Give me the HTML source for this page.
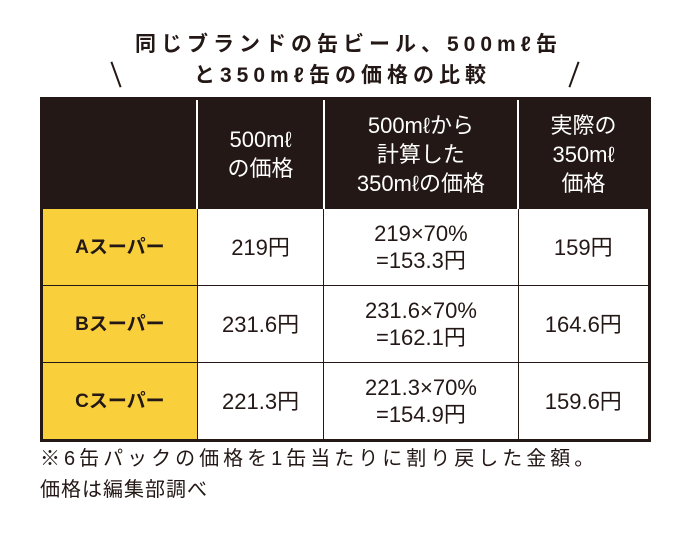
<!DOCTYPE html>
<html><head><meta charset="utf-8"><style>
body{margin:0;width:680px;height:535px;background:#fff;position:relative;overflow:hidden;font-family:"Liberation Sans","Noto Sans CJK JP",sans-serif;color:#231815}
.t{position:absolute;white-space:nowrap;font-weight:bold;font-size:21px;letter-spacing:5px}
.s{position:absolute;width:2px;height:27px;background:#231815}
table{position:absolute;left:40px;top:97px;border-collapse:collapse;width:611px}
td{border:1.5px solid #231815;text-align:center;vertical-align:middle;font-size:22px;line-height:27px;padding:0;font-family:"Liberation Sans Narrow","Liberation Sans","Noto Sans CJK JP",sans-serif}
tr.h td{background:#231815;color:#fff;height:108px;border-left:2px solid #fff;font-size:22px;line-height:29px}
tr.h td:first-child{border-left:1.5px solid #231815}
tr.r td{height:76px}
td.y{background:#f9d03c;font-weight:bold;font-size:19px}
table{border:3px solid #231815}
.f{position:absolute;left:40px;font-size:20px;letter-spacing:4px;white-space:nowrap}
</style></head><body>
<div class="t" style="left:135px;top:28px">同じブランドの缶ビール、500mℓ缶</div>
<div class="t" style="left:194px;top:59px">と350mℓ缶の価格の比較</div>
<div class="s" style="left:115px;top:61px;transform:rotate(-20deg)"></div>
<div class="s" style="left:573px;top:61px;transform:rotate(20deg)"></div>
<table>
<colgroup><col style="width:157px"><col style="width:127px"><col style="width:195px"><col style="width:132px"></colgroup>
<tr class="h">
<td></td>
<td>500mℓ<br>の価格</td>
<td>500mℓから<br>計算した<br>350mℓの価格</td>
<td>実際の<br>350mℓ<br>価格</td></tr>
<tr class="r"><td class="y">Aスーパー</td><td>219円</td><td>219×70%<br>=153.3円</td><td>159円</td></tr>
<tr class="r"><td class="y">Bスーパー</td><td>231.6円</td><td>231.6×70%<br>=162.1円</td><td>164.6円</td></tr>
<tr class="r"><td class="y">Cスーパー</td><td>221.3円</td><td>221.3×70%<br>=154.9円</td><td>159.6円</td></tr>
</table>
<div class="f" style="top:442px">※6缶パックの価格を1缶当たりに割り戻した金額。</div>
<div class="f" style="top:473px;letter-spacing:1px">価格は編集部調べ</div>
</body></html>
